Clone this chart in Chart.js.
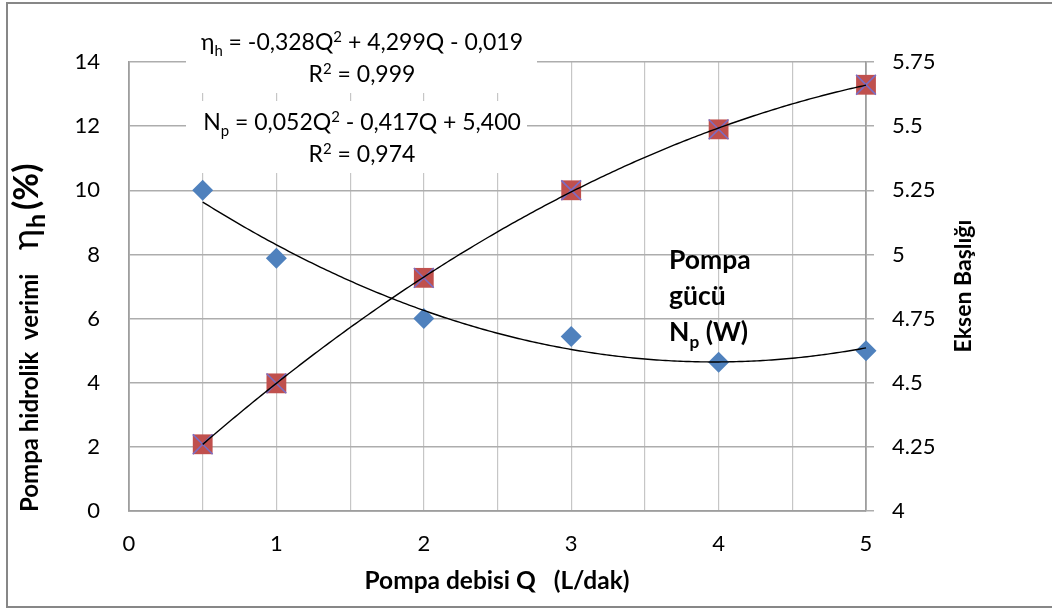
<!DOCTYPE html>
<html>
<head>
<meta charset="utf-8">
<script src="https://cdn.jsdelivr.net/npm/chart.js@4.4.0/dist/chart.umd.min.js"></script>
<style>
  html, body { margin: 0; padding: 0; background: #fff; }
</style>
</head>
<body>
<canvas id="pumpChart" width="1052" height="609"></canvas>
<script>
// values
var flowQ = [0.5, 1, 2, 3, 4, 5];                       // Pompa debisi Q (L/dak)
var efficiency = [2.08, 3.98, 7.27, 10.0, 11.9, 13.29]; // eta_h (%), left axis
var pumpPower = [5.25, 4.985, 4.75, 4.68, 4.58, 4.625]; // N_p (W), right axis
var xLabels = [0, 1, 2, 3, 4, 5];

var FONT = "Lato, 'Noto Sans', 'DejaVu Sans', sans-serif";

function pairs(xs, ys) {
    return xs.map(function(x, i) { return { x: x, y: ys[i] }; });
}

// least squares 2nd order fit, like the Excel trendline
function fitQuadratic(xs, ys) {
    var s = [0, 0, 0, 0, 0], t = [0, 0, 0];
    for (var i = 0; i < xs.length; i++) {
        var p = 1;
        for (var k = 0; k < 5; k++) { s[k] += p; p *= xs[i]; }
        t[0] += ys[i]; t[1] += xs[i] * ys[i]; t[2] += xs[i] * xs[i] * ys[i];
    }
    var m = [[s[0], s[1], s[2]], [s[1], s[2], s[3]], [s[2], s[3], s[4]]];
    function det(a) {
        return a[0][0] * (a[1][1] * a[2][2] - a[1][2] * a[2][1])
             - a[0][1] * (a[1][0] * a[2][2] - a[1][2] * a[2][0])
             + a[0][2] * (a[1][0] * a[2][1] - a[1][1] * a[2][0]);
    }
    var d = det(m), res = [];
    for (var c = 0; c < 3; c++) {
        var mc = m.map(function(row, r) { var nr = row.slice(); nr[c] = t[r]; return nr; });
        res.push(det(mc) / d);
    }
    return function(x) { return res[0] + res[1] * x + res[2] * x * x; };
}

// text with sub/superscript pieces: [text, mode] mode 0 normal, 1 sub, 2 sup
function drawRich(ctx, parts, x, y, size, bold, align) {
    var w = 0;
    var weight = bold ? 'bold ' : '';
    parts.forEach(function(p) {
        ctx.font = weight + (p[1] ? size * 0.65 : size) + 'px ' + FONT;
        w += ctx.measureText(p[0]).width;
    });
    var cx = align === 'center' ? x - w / 2 : x;
    parts.forEach(function(p) {
        ctx.font = weight + (p[1] ? size * 0.65 : size) + 'px ' + FONT;
        var dy = p[1] === 1 ? size * 0.28 : (p[1] === 2 ? -size * 0.36 : 0);
        ctx.fillText(p[0], cx, y + dy);
        cx += ctx.measureText(p[0]).width;
    });
}

var decorPlugin = {
    id: 'decor',
    beforeDraw: function(chart) {
        var ctx = chart.ctx;
        ctx.save();
        ctx.fillStyle = '#ffffff';
        ctx.fillRect(0, 0, chart.width, chart.height);
        ctx.strokeStyle = '#878787';
        ctx.lineWidth = 2;
        ctx.strokeRect(7, 3, 1100, 604);
        ctx.restore();
    },
    beforeDatasetsDraw: function(chart) {
        var ctx = chart.ctx;
        ctx.save();
        // white boxes behind the trendline labels
        ctx.fillStyle = '#ffffff';
        ctx.fillRect(186, 24, 351, 69);
        ctx.fillRect(186, 101, 341, 72);
        ctx.fillStyle = '#000000';
        ctx.textBaseline = 'alphabetic';
        drawRich(ctx, [['\u03b7', 0], ['h', 1], [' = -0,328Q', 0], ['2', 2], [' + 4,299Q - 0,019', 0]], 362, 50, 23, false, 'center');
        drawRich(ctx, [['R', 0], ['2', 2], [' = 0,999', 0]], 362, 82, 23, false, 'center');
        drawRich(ctx, [['N', 0], ['p', 1], [' = 0,052Q', 0], ['2', 2], [' - 0,417Q + 5,400', 0]], 362, 130, 23, false, 'center');
        drawRich(ctx, [['R', 0], ['2', 2], [' = 0,974', 0]], 362, 162, 23, false, 'center');
        ctx.restore();
    },
    afterDatasetsDraw: function(chart) {
        var ctx = chart.ctx;
        var xs = chart.scales.x, yl = chart.scales.y, yr = chart.scales.y2;
        var trends = [[fitQuadratic(flowQ, efficiency), yl], [fitQuadratic(flowQ, pumpPower), yr]];
        ctx.save();
        ctx.strokeStyle = '#000000';
        ctx.lineWidth = 1.4;
        trends.forEach(function(tr) {
            ctx.beginPath();
            var q0 = flowQ[0], q1 = flowQ[flowQ.length - 1];
            for (var q = q0; q <= q1 + 1e-9; q += 0.02) {
                var px = xs.getPixelForValue(q), py = tr[1].getPixelForValue(tr[0](q));
                if (q === q0) ctx.moveTo(px, py); else ctx.lineTo(px, py);
            }
            ctx.stroke();
        });

        ctx.fillStyle = '#000000';
        // in-plot label
        drawRich(ctx, [['Pompa', 0]], 669, 269, 26.5, true, 'left');
        drawRich(ctx, [['g\u00fcc\u00fc', 0]], 669, 305, 26.5, true, 'left');
        drawRich(ctx, [['N', 0], ['p', 1], [' (W)', 0]], 669, 341, 26.5, true, 'left');

        // axis titles
        drawRich(ctx, [['Pompa debisi Q   (L/dak)', 0]], 497, 589, 24.5, true, 'center');

        // left title: the eta part is set larger, as in the original
        ctx.save();
        ctx.translate(38, 512);
        ctx.rotate(-Math.PI / 2);
        ctx.font = 'bold 24px ' + FONT;
        ctx.fillText('Pompa hidrolik  verimi', 0, 0);
        ctx.font = '36px ' + FONT;
        ctx.fillText('\u03b7', 262, 0);
        ctx.font = 'bold 25px ' + FONT;
        ctx.fillText('h', 284, 7);
        ctx.font = 'bold 34px ' + FONT;
        ctx.fillText('(%)', 302, 0);
        ctx.restore();

        ctx.save();
        ctx.translate(971, 286);
        ctx.rotate(-Math.PI / 2);
        drawRich(ctx, [['Eksen Ba\u015fl\u0131\u011f\u0131', 0]], 0, 0, 23, true, 'center');
        ctx.restore();
        ctx.restore();
    }
};

var tickFont = { family: FONT, size: 22 };

var ctxPump = document.getElementById('pumpChart').getContext('2d');
var pumpChart = new Chart(ctxPump, {
    type: 'scatter',
    data: {
        datasets: [{
            label: 'eta_h',
            data: pairs(flowQ, efficiency),
            yAxisID: 'y',
            order: 2,
            pointStyle: 'rect',
            pointRadius: 14,
            pointBackgroundColor: '#C0504D',
            pointBorderColor: '#C0504D',
            pointBorderWidth: 0,
            clip: false
        }, {
            label: 'eta_h x',
            data: pairs(flowQ, efficiency),
            yAxisID: 'y',
            order: 1,
            pointStyle: 'crossRot',
            pointRadius: 14,
            pointBorderColor: '#7A6CC4',
            pointBorderWidth: 1.6,
            clip: false
        }, {
            label: 'N_p',
            data: pairs(flowQ, pumpPower),
            yAxisID: 'y2',
            order: 3,
            pointStyle: 'rectRot',
            pointRadius: 10.5,
            pointBackgroundColor: '#4F81BD',
            pointBorderColor: '#4F81BD',
            pointBorderWidth: 0,
            clip: false
        }]
    },
    options: {
        responsive: false,
        animation: false,
        locale: 'en-US',
        layout: { padding: { top: 62, left: 0, right: 0, bottom: 0 } },
        plugins: { legend: { display: false }, tooltip: { enabled: false } },
        scales: {
            x: {
                type: 'linear', min: 0, max: 5,
                afterFit: function(s) { s.height = 98; },
                ticks: {
                    stepSize: 0.5, autoSkip: false, maxRotation: 0, padding: 20,
                    font: tickFont, color: '#000000',
                    callback: function(v) { return xLabels.indexOf(v) >= 0 ? String(v) : ''; }
                },
                grid: { color: '#c6c6c6', lineWidth: 1.2, drawTicks: false },
                border: { color: '#9e9e9e', width: 1.8 }
            },
            y: {
                position: 'left', min: 0, max: 14,
                afterFit: function(s) { s.width = 129; },
                ticks: { stepSize: 2, padding: 29, font: tickFont, color: '#000000' },
                grid: { color: '#adadad', lineWidth: 1.5, drawTicks: false },
                border: { color: '#9e9e9e', width: 1.8 }
            },
            y2: {
                position: 'right', min: 4, max: 5.75,
                afterFit: function(s) { s.width = 186; },
                ticks: {
                    stepSize: 0.25, padding: 18, font: tickFont, color: '#000000',
                    callback: function(v) { return String(Math.round(v * 100) / 100); }
                },
                grid: { drawOnChartArea: false, drawTicks: true, tickLength: 8, color: '#adadad', lineWidth: 1.5 },
                border: { color: '#9e9e9e', width: 1.8 }
            }
        }
    },
    plugins: [decorPlugin]
});
</script>
</body>
</html>
